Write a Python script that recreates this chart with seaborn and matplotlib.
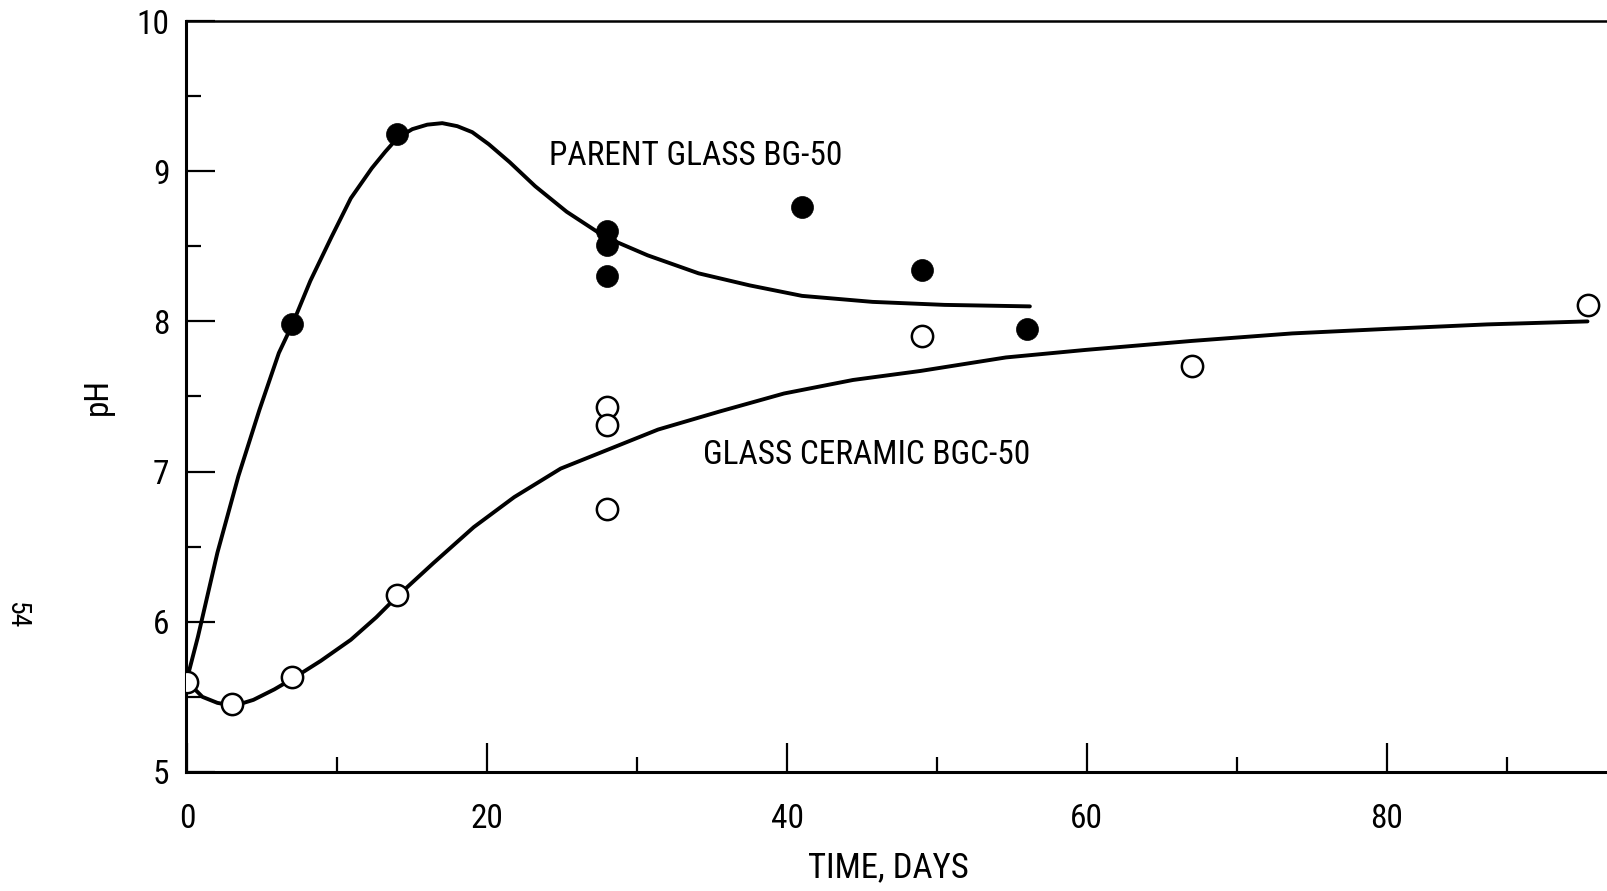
import numpy as np
import pandas as pd
import matplotlib
matplotlib.use('Agg')
import matplotlib.pyplot as plt
import seaborn as sns
from matplotlib.ticker import FixedLocator

# Measured points: parent glass BG-50 (filled) and glass ceramic BGC-50 (open)
bg_days = [7, 14, 28, 28, 28, 41, 49, 56]
bg_ph = [7.98, 9.25, 8.60, 8.51, 8.30, 8.76, 8.34, 7.95]

bgc_days = [0, 3, 7, 14, 28, 28, 28, 49, 67, 93.4]
bgc_ph = [5.60, 5.45, 5.63, 6.18, 7.43, 7.31, 6.75, 7.90, 7.70, 8.11]

# Hand-drawn fitted curves
bg_curve_days = [0, 0.7, 2.0, 3.4, 4.8, 6.1, 7.0, 8.2, 9.6, 10.9, 12.3, 13.2,
                 14.0, 15.0, 16.0, 17.0, 18.0, 19.0, 20.1, 21.5, 23.2, 25.3,
                 27.9, 30.7, 34.1, 37.5, 41.0, 45.7, 50.5, 56.2]
bg_curve_ph = [5.63, 5.90, 6.46, 6.97, 7.41, 7.79, 7.98, 8.27, 8.56, 8.82,
               9.02, 9.13, 9.22, 9.28, 9.31, 9.32, 9.30, 9.26, 9.18, 9.06,
               8.90, 8.73, 8.56, 8.44, 8.32, 8.24, 8.17, 8.13, 8.11, 8.10]

bgc_curve_days = [0, 1.0, 2.0, 3.1, 4.4, 5.8, 7.0, 8.9, 10.9, 12.6, 14.0, 16.4,
                  19.1, 21.8, 24.9, 27.9, 31.4, 35.5, 39.8, 44.4, 48.9, 54.6,
                  59.9, 67.0, 73.7, 80.0, 86.7, 93.4]
bgc_curve_ph = [5.60, 5.50, 5.46, 5.44, 5.48, 5.55, 5.62, 5.74, 5.88, 6.03,
                6.17, 6.39, 6.63, 6.83, 7.02, 7.14, 7.28, 7.40, 7.52, 7.61,
                7.67, 7.76, 7.81, 7.87, 7.92, 7.95, 7.98, 8.00]

x_major = [0, 20, 40, 60, 80]
x_minor = [10, 30, 50, 70, 88]
y_major = [5, 6, 7, 8, 9, 10]
y_minor = [5.5, 6.5, 7.5, 8.5, 9.5]

sns.set_theme(style='ticks')
plt.rcParams['font.family'] = ['Roboto Condensed', 'Liberation Sans Narrow', 'DejaVu Sans']
plt.rcParams['font.stretch'] = 'condensed'
for key in ['text.color', 'axes.labelcolor', 'xtick.color', 'ytick.color']:
    plt.rcParams[key] = 'black'

fig = plt.figure(figsize=(16.07, 8.91), dpi=100)
ax = fig.add_axes([0.1157, 0.1336, 0.8843, 0.8428])

sns.lineplot(x=bg_curve_days, y=bg_curve_ph, ax=ax, color='black', lw=2.8,
             sort=False, estimator=None)
sns.lineplot(x=bgc_curve_days, y=bgc_curve_ph, ax=ax, color='black', lw=2.8,
             sort=False, estimator=None)

sns.scatterplot(x=bg_days, y=bg_ph, ax=ax, s=250, color='black',
                edgecolor='black', linewidth=0.5, zorder=5)
sns.scatterplot(x=bgc_days, y=bgc_ph, ax=ax, s=235, color='white',
                edgecolor='black', linewidth=1.8, zorder=5)

ax.set_xlim(-0.1, 94.7)
ax.set_ylim(5, 10)

ax.xaxis.set_major_locator(FixedLocator(x_major))
ax.xaxis.set_minor_locator(FixedLocator(x_minor))
ax.yaxis.set_major_locator(FixedLocator(y_major))
ax.yaxis.set_minor_locator(FixedLocator(y_minor))

ax.tick_params(axis='both', which='major', direction='in', length=21,
               width=1.6, color='black', labelsize=24)
ax.tick_params(axis='both', which='minor', direction='in', length=11,
               width=1.6, color='black')
ax.tick_params(axis='x', which='major', pad=22)
ax.tick_params(axis='y', which='major', pad=12)

for side in ['left', 'bottom']:
    ax.spines[side].set_linewidth(2.2)
ax.spines['top'].set_linewidth(1.8)
ax.spines['right'].set_visible(False)
for sp in ax.spines.values():
    sp.set_color('black')

ax.set_xlabel('TIME, DAYS', fontsize=25, labelpad=12)
ax.xaxis.label.set_x(0.494)
ax.set_ylabel('pH', fontsize=24, labelpad=16)

ax.text(24.1, 9.1, 'PARENT GLASS BG-50', fontsize=24, ha='left', va='center')
ax.text(34.4, 7.11, 'GLASS CERAMIC BGC-50', fontsize=24, ha='left', va='center')

fig.text(0.010, 0.31, '54', fontsize=20, rotation=-90, ha='center', va='center')

fig.savefig('out.png', dpi=100, facecolor='white')
